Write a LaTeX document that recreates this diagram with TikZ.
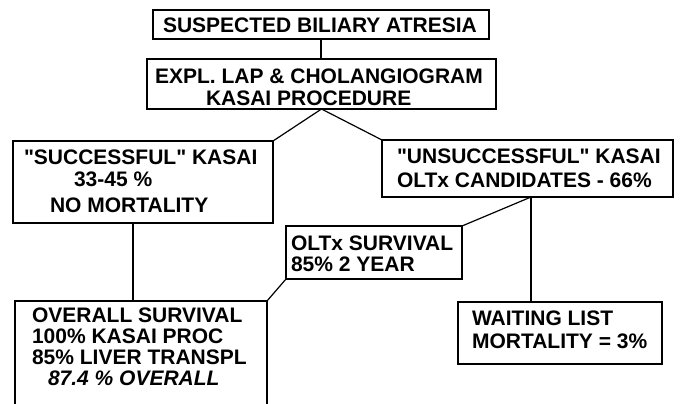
\documentclass[tikz,border=0pt]{standalone}
\usepackage{fontspec}
\setmainfont{Liberation Sans}
\begin{document}
\begin{tikzpicture}[x=1bp,y=-1bp,
  box/.style={draw, line width=1.7bp, inner sep=0pt, outer sep=0pt, anchor=north west},
  txt/.style={anchor=base west, inner sep=0pt, outer sep=0pt, font=\fontsize{21bp}{21bp}\selectfont\bfseries},
  link/.style={line width=1.2bp}]
\useasboundingbox (0,0) rectangle (682,403);
\clip (0,0) rectangle (682,403);
% boxes
\node[box, minimum width=336bp, minimum height=29bp] (b1) at (153,10) {};
\node[box, minimum width=349bp, minimum height=50bp] (b2) at (147,59) {};
\node[box, minimum width=260bp, minimum height=82bp] (b3) at (13,141) {};
\node[box, minimum width=291bp, minimum height=57bp] (b4) at (382,140) {};
\node[box, minimum width=176bp, minimum height=53bp] (b6) at (286,226) {};
\node[box, minimum width=252bp, minimum height=120bp] (b5) at (15,301) {};
\node[box, minimum width=204bp, minimum height=62bp] (b7) at (458,302) {};
% texts
\node[txt] (t1) at (163,32) {SUSPECTED BILIARY ATRESIA};
\node[txt] (t2a) at (155,83) {EXPL. LAP \& CHOLANGIOGRAM};
\node[txt] (t2b) at (206,105) {KASAI PROCEDURE};
\node[txt] (t3a) at (24,164) {\textquotedbl SUCCESSFUL\textquotedbl{} KASAI};
\node[txt] (t3b) at (74,186) {33-45 \%};
\node[txt] (t3c) at (50,212) {NO MORTALITY};
\node[txt] (t4a) at (397,163) {\textquotedbl UNSUCCESSFUL\textquotedbl{} KASAI};
\node[txt] (t4b) at (397,187) {OLTx CANDIDATES - 66\%};
\node[txt] (t6a) at (291,250) {OLTx SURVIVAL};
\node[txt] (t6b) at (291,271) {85\% 2 YEAR};
\node[txt] (t5a) at (32,322) {OVERALL SURVIVAL};
\node[txt] (t5b) at (32,343) {100\% KASAI PROC};
\node[txt] (t5c) at (32,364) {85\% LIVER TRANSPL};
\node[txt, font=\fontsize{21bp}{21bp}\selectfont\bfseries\itshape] (t5d) at (48,385) {87.4 \% OVERALL};
\node[txt] (t7a) at (472,325) {WAITING LIST};
\node[txt] (t7b) at (472,348) {MORTALITY = 3\%};
% connectors
\draw[link] (b1.south) -- (b1.south |- b2.north);
\draw[link] (b3.north east) -- (b2.south) -- (b4.north west);
\coordinate (s3) at ([xshift=120bp]b3.south west);
\draw[link] (s3) -- (s3 |- b5.north);
\coordinate (s4) at ([xshift=149bp]b4.south west);
\draw[link] (s4) -- (s4 |- b7.north);
\draw[link] (s4) -- (b6.north east);
\draw[link] (b5.north east) -- (b6.south west);
\end{tikzpicture}
\end{document}
